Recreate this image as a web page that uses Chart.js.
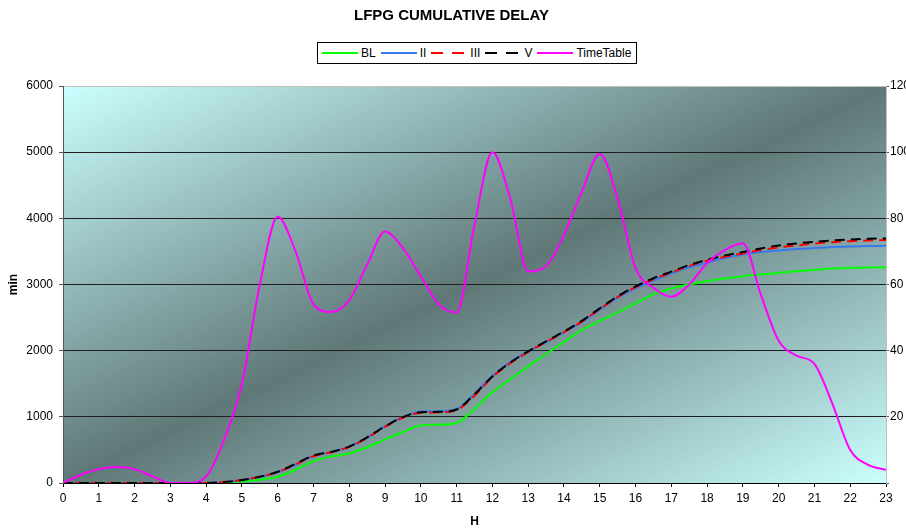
<!DOCTYPE html>
<html lang="en">
<head>
    <meta charset="UTF-8">
    <title>LFPG Cumulative Delay</title>
    <script src="https://cdn.jsdelivr.net/npm/chart.js"></script>
    <style>
        body { margin: 0; background: #fff; overflow: hidden; }
        .wrap { position: relative; width: 906px; height: 531px; font-family: "Liberation Sans", Arial, sans-serif; }
        .title { position: absolute; top: 6px; left: 0; width: 903px; text-align: center; font-weight: bold; font-size: 15px; }
        .legend { position: absolute; left: 317px; top: 42px; height: 20px; border: 1px solid #000; background: #fff;
                  display: flex; align-items: center; font-size: 12px; padding: 0 5px 0 4px; }
        .legend .item { display: flex; align-items: center; margin-right: 5px; }
        .legend .item:last-child { margin-right: 0; }
        .legend .line { width: 36px; height: 2px; margin-right: 3px; }
    </style>
</head>
<body>
<div class="wrap">
    <canvas id="delayChart" width="906" height="531"></canvas>
    <div class="title">LFPG CUMULATIVE DELAY</div>
    <div class="legend" id="legend"></div>
</div>
<script>
    // hour of day
    const hours = [0, 0.5, 1, 1.5, 2, 2.5, 3, 3.5, 4, 4.5, 5, 5.5, 6, 6.5, 7, 7.5, 8, 8.5, 9, 9.5,
        10, 10.5, 11, 11.5, 12, 12.5, 13, 13.5, 14, 14.5, 15, 15.5, 16, 16.5, 17, 17.5, 18, 18.5,
        19, 19.5, 20, 20.5, 21, 21.5, 22, 22.5, 23];

    // cumulative delay (min), left axis
    const blValues = [0, 0, 0, 0, 0, 0, 0, 0, 0, 5, 25, 50, 95, 200, 330, 400, 445, 540, 660, 770,
        870, 880, 910, 1120, 1370, 1570, 1760, 1950, 2130, 2310, 2450, 2580, 2720, 2850, 2940, 3000,
        3050, 3090, 3125, 3150, 3175, 3200, 3220, 3240, 3250, 3258, 3260];
    const iiValues = [0, 0, 0, 0, 0, 0, 0, 0, 0, 15, 45, 95, 165, 280, 410, 470, 550, 690, 860, 1000,
        1080, 1085, 1120, 1350, 1620, 1830, 1990, 2130, 2280, 2430, 2620, 2800, 2940, 3060, 3170, 3260,
        3330, 3400, 3455, 3490, 3515, 3535, 3550, 3565, 3575, 3580, 3585];
    const iiiValues = [0, 0, 0, 0, 0, 0, 0, 0, 0, 15, 45, 95, 165, 280, 405, 465, 545, 680, 850, 990,
        1060, 1065, 1100, 1320, 1600, 1810, 1980, 2130, 2280, 2440, 2630, 2810, 2960, 3080, 3180, 3280,
        3360, 3420, 3470, 3520, 3560, 3590, 3620, 3640, 3655, 3665, 3672];
    const vValues = [0, 0, 0, 0, 0, 0, 0, 0, 0, 15, 45, 95, 170, 290, 415, 470, 550, 690, 855, 995,
        1070, 1075, 1110, 1340, 1610, 1820, 1990, 2140, 2290, 2450, 2640, 2820, 2970, 3095, 3195, 3295,
        3375, 3440, 3490, 3545, 3590, 3620, 3645, 3665, 3680, 3690, 3697];

    // timetable movements, right axis
    const timeTable = [0, 2.5, 4.2, 4.8, 4.2, 2, 0, 0, 2, 13, 30, 60, 80.5, 70, 54, 51.7, 55.3, 66, 76, 71,
        62.5, 54, 51.5, 78, 100, 86, 64, 65.5, 75, 88, 99.5, 86, 65, 59, 56.3, 60, 66.5, 70.5, 72.5, 57,
        43, 38.5, 36, 24, 10, 5.5, 4];

    const leftTicks = [0, 1000, 2000, 3000, 4000, 5000, 6000];
    const rightTicks = [0, 20, 40, 60, 80, 100, 120];

    const seriesNames = ['BL', 'II', 'III', 'V', 'TimeTable'];
    const seriesColors = ['#00ff00', '#3a78f0', '#ff0000', '#000000', '#ff00ff'];
    const seriesValues = [blValues, iiValues, iiiValues, vValues, timeTable];
    const seriesDash = [[], [], [10, 6], [10, 6], []];

    const FONT = '"Liberation Sans", Arial, sans-serif';

    function points(values) {
        return hours.map((h, i) => ({ x: h, y: values[i] }));
    }

    // legend (html)
    const legendEl = document.getElementById('legend');
    seriesNames.forEach((name, i) => {
        const item = document.createElement('div');
        item.className = 'item';
        const line = document.createElement('span');
        line.className = 'line';
        const c = seriesColors[i];
        if (seriesDash[i].length) {
            line.style.background = 'linear-gradient(to right, ' + c + ' 0 12px, transparent 12px 21px, ' + c + ' 21px 33px, transparent 33px)';
        } else {
            line.style.background = c;
        }
        const txt = document.createElement('span');
        txt.textContent = name;
        item.appendChild(line);
        item.appendChild(txt);
        legendEl.appendChild(item);
    });

    // gradient plot background
    const plotBackground = {
        id: 'plotBackground',
        beforeDraw(chart) {
            const { ctx, chartArea: a } = chart;
            const W = a.right - a.left, H = a.bottom - a.top;
            const k = 2 * W * H / (W * W + H * H);
            const g = ctx.createLinearGradient(a.left, a.top, a.left + H * k, a.top + W * k);
            g.addColorStop(0, '#ccffff');
            g.addColorStop(0.5, '#5f7777');
            g.addColorStop(1, '#ccffff');
            ctx.save();
            ctx.fillStyle = g;
            ctx.fillRect(a.left, a.top, W, H);
            ctx.restore();
        }
    };

    const datasets = seriesNames.map((name, i) => ({
        label: name,
        data: points(seriesValues[i]),
        yAxisID: name === 'TimeTable' ? 'y2' : 'y',
        borderColor: seriesColors[i],
        borderWidth: 2,
        borderDash: seriesDash[i],
        borderDashOffset: name === 'III' ? 4 : 0,
        pointRadius: 0,
        fill: false,
        cubicInterpolationMode: 'monotone',
        order: 4 - i
    }));

    new Chart(document.getElementById('delayChart').getContext('2d'), {
        type: 'line',
        data: { datasets: datasets },
        options: {
            responsive: false,
            animation: false,
            devicePixelRatio: 1,
            layout: { padding: { top: 86, left: 0, right: 0, bottom: 0 } },
            plugins: { legend: { display: false }, title: { display: false }, tooltip: { enabled: false } },
            scales: {
                x: {
                    type: 'linear',
                    min: 0,
                    max: 23,
                    afterFit(scale) { scale.height = 48; },
                    afterBuildTicks(scale) { scale.ticks = hours.filter(h => h % 1 === 0).map(v => ({ value: v })); },
                    ticks: { autoSkip: false, maxRotation: 0, padding: 4, color: '#000', font: { family: FONT, size: 12 },
                             callback: v => String(v) },
                    grid: { drawOnChartArea: false, drawTicks: true, tickLength: 4, tickColor: '#000' },
                    border: { display: true, color: '#000' },
                    title: { display: true, text: 'H', color: '#000', font: { family: FONT, size: 12, weight: 'bold' }, padding: { top: 0, bottom: 2 } }
                },
                y: {
                    position: 'left',
                    min: 0,
                    max: 6000,
                    afterFit(scale) { scale.width = 63; },
                    afterBuildTicks(scale) { scale.ticks = leftTicks.map(v => ({ value: v })); },
                    ticks: { padding: 6, color: '#000', font: { family: FONT, size: 12 }, callback: v => String(v) },
                    grid: {
                        color: ctx => ctx.tick && ctx.tick.value === 6000 ? '#c0c0c0' : '#1e1e1e',
                        lineWidth: 1,
                        tickLength: 4,
                        tickColor: '#555'
                    },
                    border: { display: true, color: '#555' },
                    title: { display: true, text: 'min', color: '#000', font: { family: FONT, size: 12, weight: 'bold' }, padding: { top: 6, bottom: 0 } }
                },
                y2: {
                    position: 'right',
                    min: 0,
                    max: 120,
                    afterFit(scale) { scale.width = 20; },
                    afterBuildTicks(scale) { scale.ticks = rightTicks.map(v => ({ value: v })); },
                    ticks: { padding: 1, color: '#000', font: { family: FONT, size: 12 }, callback: v => v === 0 ? '' : String(v) },
                    grid: { drawOnChartArea: false, drawTicks: true, tickLength: 3, tickColor: '#555' },
                    border: { display: true, color: '#c0c0c0' }
                }
            }
        },
        plugins: [plotBackground]
    });
</script>
</body>
</html>
